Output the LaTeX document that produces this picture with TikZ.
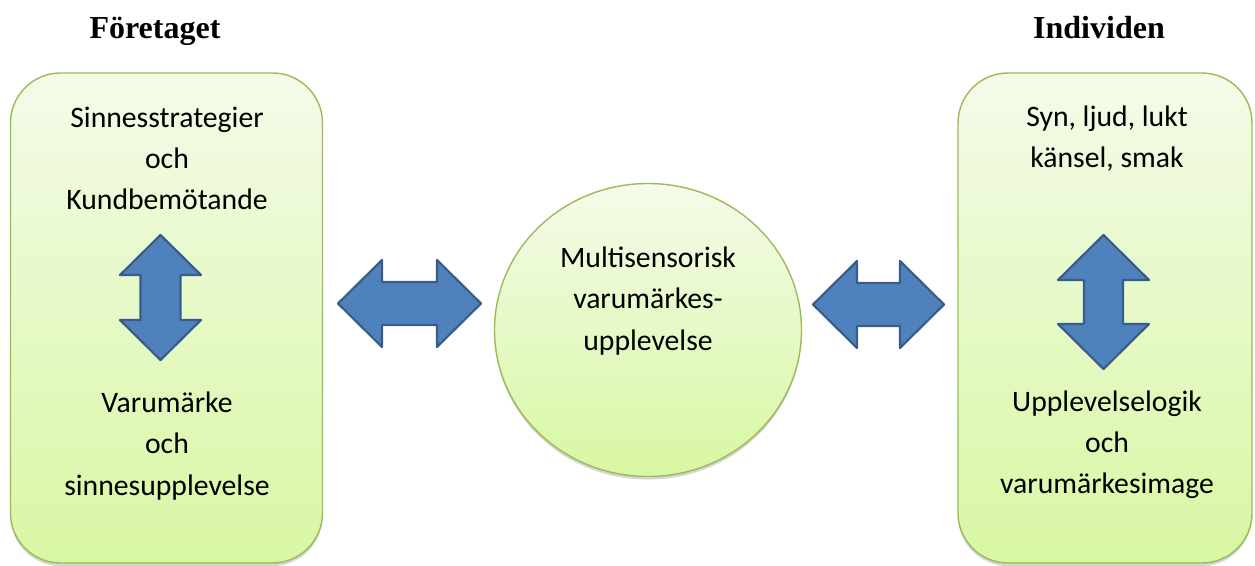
\documentclass[tikz,border=0pt]{standalone}
\usepackage{fontspec}
\setmainfont{Carlito}
\newfontfamily\titlefont{Liberation Serif}
\usetikzlibrary{shapes.geometric,shadows}
\definecolor{boxline}{HTML}{9BBB59}
\definecolor{boxtop}{HTML}{F4FBE9}
\definecolor{boxbot}{HTML}{D8F7A3}
\definecolor{arrowfill}{HTML}{4F81BD}
\definecolor{arrowline}{HTML}{385D8A}
\begin{document}
\begin{tikzpicture}[x=1pt,y=-1pt,
  softshadow/.style={drop shadow={shadow xshift=0pt,shadow yshift=-3pt,opacity=0.3,fill=black!55}},
  panel/.style={draw=boxline,line width=1.4pt,rounded corners=50pt,top color=boxtop,bottom color=boxbot,
    minimum height=490pt,inner sep=0pt,softshadow},
  bubble/.style={ellipse,draw=boxline,line width=1.4pt,top color=boxtop,bottom color=boxbot,
    minimum width=307pt,minimum height=293pt,inner sep=0pt,softshadow},
  blockarrow/.style={fill=arrowfill,draw=arrowline,line width=2.2pt,line join=round},
  txt/.style={anchor=base,inner sep=0pt,font=\fontsize{29.7}{36}\selectfont},
  title/.style={anchor=base,inner sep=0pt,font=\titlefont\bfseries\fontsize{32}{38}\selectfont}]
\useasboundingbox (0,0) rectangle (1255,565);

% titles
\node[title] (tL) at (155,38) {Företaget};
\node[title] (tR) at (1099,38) {Individen};

% panels and centre bubble
\node[panel,minimum width=312pt] (L) at (166.5,318) {};
\node[panel,minimum width=294pt] (R) at (1105,318) {};
\node[bubble] (C) at (648,330) {};

% left panel text
\node[txt] (L1) at (167,127) {Sinnesstrategier};
\node[txt] (L2) at (167,168) {och};
\node[txt] (L3) at (167,209) {Kundbemötande};
\node[txt] (L4) at (167,412) {Varumärke};
\node[txt] (L5) at (167,453) {och};
\node[txt] (L6) at (167,495) {sinnesupplevelse};

% right panel text
\node[txt] (R1) at (1107,126) {Syn, ljud, lukt};
\node[txt] (R2) at (1107,167) {känsel, smak};
\node[txt] (R3) at (1107,411) {Upplevelselogik};
\node[txt] (R4) at (1107,452) {och};
\node[txt] (R5) at (1107,493) {varumärkesimage};

% centre text
\node[txt] (C1) at (648,267) {Multisensorisk};
\node[txt] (C2) at (648,308) {varumärkes-};
\node[txt] (C3) at (648,350) {upplevelse};

% vertical block arrows
\draw[blockarrow,shift={(160.5,297.5)}]
  (0,-62.5) -- (40.5,-22.5) -- (20,-22.5) -- (20,22.5) -- (40.5,22.5) -- (0,62.5)
  -- (-40.5,22.5) -- (-20,22.5) -- (-20,-22.5) -- (-40.5,-22.5) -- cycle;
\draw[blockarrow,shift={(1103.5,302)}]
  (0,-67) -- (45.5,-22) -- (19.5,-22) -- (19.5,22) -- (45.5,22) -- (0,67)
  -- (-45.5,22) -- (-19.5,22) -- (-19.5,-22) -- (-45.5,-22) -- cycle;

% horizontal block arrows
\draw[blockarrow,shift={(409.5,303.5)}]
  (-71.5,0) -- (-27.5,-43.5) -- (-27.5,-21.5) -- (27.5,-21.5) -- (27.5,-43.5) -- (71.5,0)
  -- (27.5,43.5) -- (27.5,21.5) -- (-27.5,21.5) -- (-27.5,43.5) -- cycle;
\draw[blockarrow,shift={(878.5,304.5)}]
  (-65.5,0) -- (-21.5,-43.5) -- (-21.5,-21.5) -- (21.5,-21.5) -- (21.5,-43.5) -- (65.5,0)
  -- (21.5,43.5) -- (21.5,21.5) -- (-21.5,21.5) -- (-21.5,43.5) -- cycle;
\end{tikzpicture}
\end{document}
